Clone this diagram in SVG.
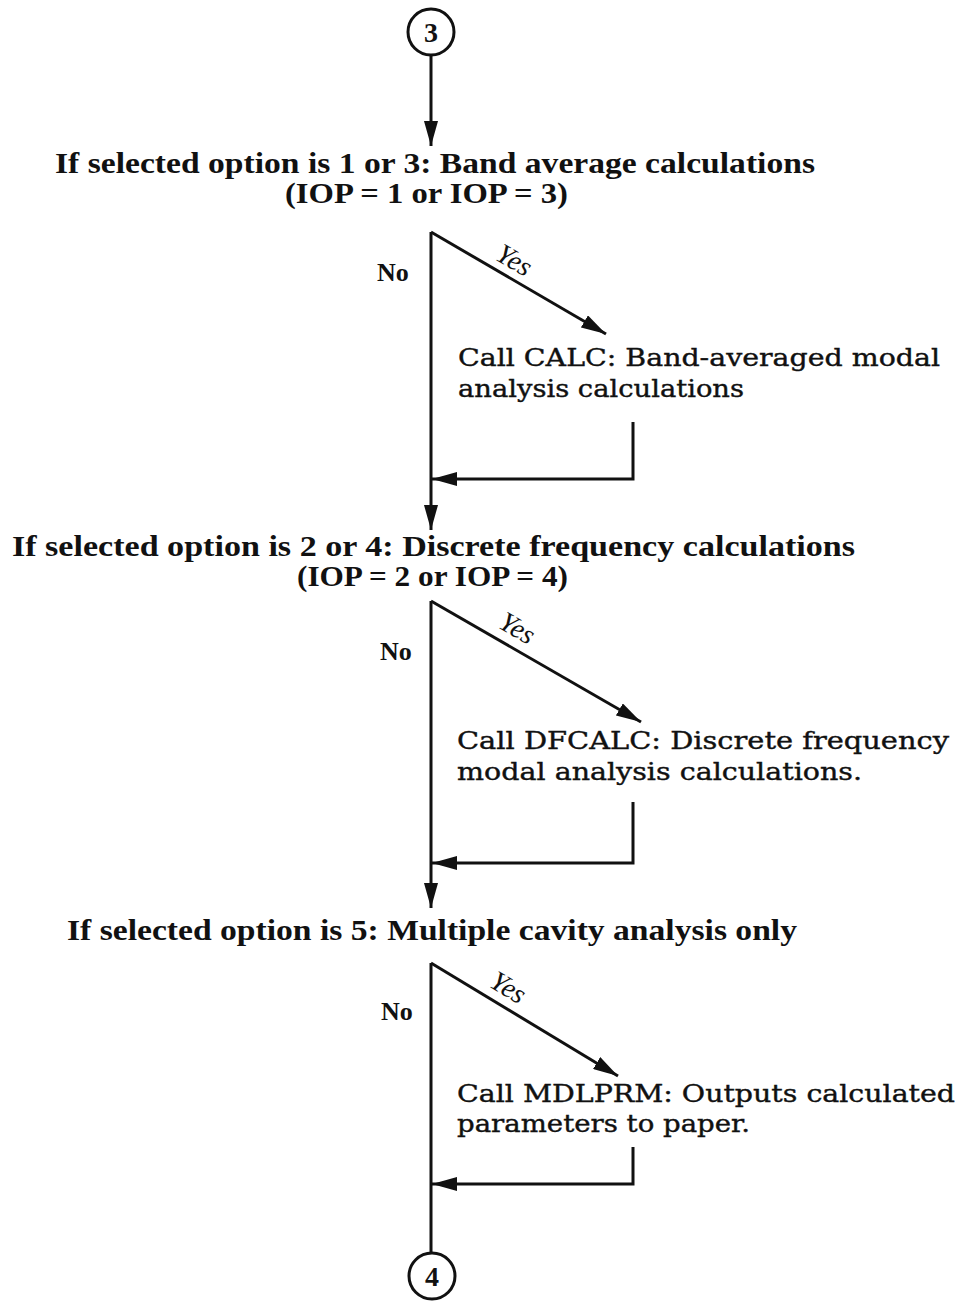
<svg xmlns="http://www.w3.org/2000/svg" width="958" height="1310" viewBox="0 0 958 1310">
  <style>
    .ln { stroke: #111; stroke-width: 3; fill: none; }
    .arr { marker-end: url(#head); }
    .conn { fill: none; stroke: #111; stroke-width: 3; }
    .head { font-family: "Liberation Serif", "DejaVu Serif", serif; font-weight: bold; font-size: 29px; fill: #111; }
    .call { font-family: "DejaVu Serif", "Liberation Serif", serif; font-size: 25px; fill: #111; stroke: #111; stroke-width: 0.4; }
    .no { font-family: "Liberation Serif", serif; font-weight: bold; font-size: 26px; fill: #111; }
    .yes { font-family: "Liberation Serif", serif; font-style: italic; font-size: 28px; fill: #111; }
    .num { font-family: "Liberation Serif", serif; font-weight: bold; font-size: 28px; fill: #111; text-anchor: middle; }
  </style>
  <defs>
    <marker id="head" markerUnits="userSpaceOnUse" markerWidth="26" markerHeight="14" refX="25" refY="7" orient="auto">
      <path d="M0,0 L25,7 L0,14 Z" fill="#111"/>
    </marker>
  </defs>
  <rect width="958" height="1310" fill="#fff"/>

  <!-- connectors -->
  <g id="connectors" class="conn">
    <line class="arr" x1="431" y1="55" x2="431" y2="146"/>
    <!-- decision 1 -->
    <line class="arr" x1="431" y1="232" x2="431" y2="530"/>
    <line class="arr" x1="431" y1="232" x2="606" y2="334"/>
    <polyline class="arr" points="633,422 633,479 432,479"/>
    <!-- decision 2 -->
    <line class="arr" x1="431" y1="601" x2="431" y2="908"/>
    <line class="arr" x1="431" y1="601" x2="641" y2="722"/>
    <polyline class="arr" points="633,802 633,863 432,863"/>
    <!-- decision 3 -->
    <line x1="431" y1="963" x2="431" y2="1253"/>
    <line class="arr" x1="431" y1="963" x2="618" y2="1076"/>
    <polyline class="arr" points="633,1147 633,1184 432,1184"/>
  </g>

  <!-- connector 3 -->
  <g id="conn-in">
    <circle class="ln" cx="431" cy="32" r="23"/>
    <text class="num" x="431" y="42">3</text>
  </g>

  <!-- band average test -->
  <g id="test-band">
    <text class="head" x="55" y="173" textLength="760" lengthAdjust="spacingAndGlyphs">If selected option is 1 or 3:  Band average calculations</text>
    <text class="head" x="285" y="203" textLength="283" lengthAdjust="spacingAndGlyphs">(IOP = 1 or IOP = 3)</text>
    <text class="no" x="377" y="281">No</text>
    <text class="yes" transform="translate(494,259) rotate(30)">Yes</text>
  </g>
  <g id="call-calc">
    <text class="call" x="458" y="366" textLength="482" lengthAdjust="spacingAndGlyphs">Call CALC:  Band-averaged modal</text>
    <text class="call" x="458" y="397" textLength="286" lengthAdjust="spacingAndGlyphs">analysis calculations</text>
  </g>

  <!-- discrete frequency test -->
  <g id="test-discrete">
    <text class="head" x="12" y="556" textLength="843" lengthAdjust="spacingAndGlyphs">If selected option is 2 or 4:  Discrete frequency calculations</text>
    <text class="head" x="297" y="586" textLength="271" lengthAdjust="spacingAndGlyphs">(IOP = 2 or IOP = 4)</text>
    <text class="no" x="380" y="660">No</text>
    <text class="yes" transform="translate(497,627) rotate(30)">Yes</text>
  </g>
  <g id="call-dfcalc">
    <text class="call" x="457" y="749" textLength="492" lengthAdjust="spacingAndGlyphs">Call DFCALC:  Discrete frequency</text>
    <text class="call" x="457" y="780" textLength="405" lengthAdjust="spacingAndGlyphs">modal analysis calculations.</text>
  </g>

  <!-- multiple cavity test -->
  <g id="test-cavity">
    <text class="head" x="67" y="940" textLength="730" lengthAdjust="spacingAndGlyphs">If selected option is 5:  Multiple cavity analysis only</text>
    <text class="no" x="381" y="1020">No</text>
    <text class="yes" transform="translate(488,986) rotate(31)">Yes</text>
  </g>
  <g id="call-mdlprm">
    <text class="call" x="457" y="1102" textLength="498" lengthAdjust="spacingAndGlyphs">Call MDLPRM:  Outputs calculated</text>
    <text class="call" x="457" y="1132" textLength="293" lengthAdjust="spacingAndGlyphs">parameters to paper.</text>
  </g>

  <!-- connector 4 -->
  <g id="conn-out">
    <circle class="ln" cx="432" cy="1276" r="23"/>
    <text class="num" x="432" y="1286">4</text>
  </g>
</svg>
